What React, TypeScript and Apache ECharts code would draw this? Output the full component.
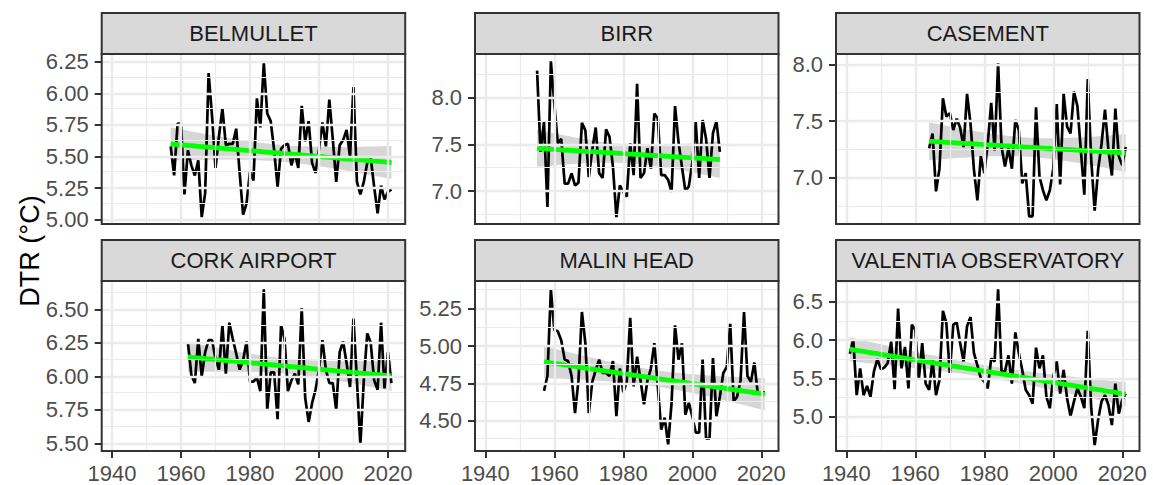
import React, { useEffect, useRef } from "react";
import * as echarts from "echarts";

const stations = ["BELMULLET", "BIRR", "CASEMENT", "CORK AIRPORT", "MALIN HEAD", "VALENTIA OBSERVATORY"];
const startYears = [1957, 1955, 1964, 1962, 1957, 1941];

const belmullet = [
  5.58, 5.35, 5.76, 5.76, 5.2, 5.55, 5.43, 5.35, 5.47, 5.02, 5.21, 6.16, 5.82, 5.41, 5.66, 5.88,
  5.59, 5.6, 5.6, 5.72, 5.37, 5.04, 5.13, 5.38, 5.31, 5.96, 5.73, 6.24, 5.84, 5.78, 5.55, 5.26,
  5.56, 5.59, 5.6, 5.43, 5.53, 5.41, 5.9, 5.62, 5.78, 5.45, 5.37, 5.56, 5.77, 5.58, 5.95, 5.64,
  5.3, 5.59, 5.63, 5.71, 5.5, 6.05, 5.3, 5.2, 5.3, 5.45, 5.49, 5.26, 5.05, 5.27, 5.16, 5.22, 5.24,
];
const birr = [
  8.29, 7.42, 7.74, 6.83, 8.39, 7.94, 7.51, 7.56, 7.08, 7.08, 7.19, 7.06, 7.09, 7.73, 7.65, 7.15,
  7.44, 7.68, 7.19, 7.14, 7.66, 7.58, 7.26, 6.72, 7.06, 6.99, 6.94, 7.51, 7.17, 8.15, 7.14, 7.19,
  7.46, 7.24, 7.83, 7.78, 7.17, 7.17, 7.12, 6.99, 7.91, 7.53, 7.26, 7.0, 7.05, 7.3, 7.74, 7.14,
  7.76, 7.56, 7.14, 7.62, 7.75, 7.42,
];
const casement = [
  7.26, 7.39, 6.88, 7.08, 7.7, 7.54, 7.57, 7.42, 7.52, 7.44, 7.27, 7.74, 7.48, 7.07, 6.8, 7.19,
  7.04, 7.3, 7.66, 7.24, 8.01, 7.27, 7.1, 7.26, 7.08, 7.51, 7.42, 6.95, 7.04, 6.66, 6.66, 7.62,
  7.01, 6.89, 6.8, 6.89, 7.08, 7.65, 6.94, 7.74, 7.45, 7.39, 7.76, 7.63, 7.24, 6.85, 7.87, 7.16,
  6.71, 7.07, 7.3, 7.6, 7.24, 7.02, 7.61, 7.19, 7.11, 7.27,
];
const corkAirport = [
  6.25, 6.01, 5.95, 6.28, 6.0, 6.18, 6.27, 6.27, 6.13, 6.05, 6.38, 6.02, 6.4, 6.28, 6.17, 6.05,
  6.12, 6.26, 5.96, 5.96, 5.99, 5.89, 6.65, 5.75, 6.03, 6.03, 5.68, 6.38, 6.28, 5.89, 5.97, 6.02,
  5.94, 6.51, 5.84, 5.66, 5.8, 5.9, 6.05, 6.27, 6.05, 5.95, 5.95, 5.75, 6.18, 6.26, 6.1, 5.92,
  6.43, 5.97, 5.49, 5.97, 6.32, 6.25, 5.97, 5.9, 6.4, 5.91, 6.18, 5.95,
];
const malinHead = [
  4.7, 4.8, 5.38, 5.11, 5.1, 5.04, 4.91, 4.9, 4.8, 4.55, 4.77, 5.23, 5.02, 4.55, 4.76, 4.84,
  4.91, 4.82, 4.82, 4.8, 4.9, 4.53, 4.85, 4.69, 4.76, 5.19, 4.73, 4.93, 4.77, 4.61, 4.77, 4.85,
  5.02, 4.73, 4.44, 4.52, 4.34, 4.62, 5.14, 4.91, 5.02, 4.54, 4.62, 4.53, 4.42, 4.42, 4.91, 4.38,
  4.38, 4.92, 4.53, 4.66, 4.82, 4.86, 5.15, 4.63, 4.66, 4.77, 5.23, 4.8, 4.76, 4.89, 4.68, 4.69, 4.69,
];
const valentia = [
  5.82, 6.01, 5.28, 5.63, 5.28, 5.4, 5.26, 5.59, 5.75, 5.62, 5.64, 5.7, 5.98, 5.36, 6.41, 5.63,
  5.91, 5.37, 6.2, 6.13, 5.48, 5.96, 5.43, 5.35, 5.74, 5.28, 5.48, 6.38, 6.22, 5.57, 6.2, 6.23,
  5.96, 5.72, 6.18, 6.3, 5.83, 5.67, 5.5, 5.46, 5.37, 5.76, 5.72, 6.66, 5.59, 5.59, 5.8, 5.43,
  6.1, 5.83, 5.61, 5.35, 5.28, 5.17, 5.9, 5.63, 5.8, 5.26, 5.11, 5.52, 5.72, 5.3, 5.61, 5.24,
  5.01, 5.2, 5.37, 5.26, 5.11, 6.12, 5.11, 4.63, 4.96, 5.2, 5.28, 5.15, 4.89, 5.43, 5.04, 5.22, 5.3,
];
const seriesValues = [belmullet, birr, casement, corkAirport, malinHead, valentia];

const xLimits = [1937, 2025];
const xTicks = [1940, 1960, 1980, 2000, 2020];
const xMinorTicks = [1950, 1970, 1990, 2010];

const yTicksBelmullet = [5.0, 5.25, 5.5, 5.75, 6.0, 6.25];
const yTicksBirr = [7.0, 7.5, 8.0];
const yTicksCasement = [7.0, 7.5, 8.0];
const yTicksCork = [5.5, 5.75, 6.0, 6.25, 6.5];
const yTicksMalin = [4.5, 4.75, 5.0, 5.25];
const yTicksValentia = [5.0, 5.5, 6.0, 6.5];
const yTicks = [yTicksBelmullet, yTicksBirr, yTicksCasement, yTicksCork, yTicksMalin, yTicksValentia];
const yDecimals = [2, 1, 1, 2, 2, 1];
const yLimits = [
  [4.966, 6.311],
  [6.647, 8.468],
  [6.592, 8.091],
  [5.443, 6.711],
  [4.296, 5.438],
  [4.552, 6.77],
];

const FONT = "Liberation Sans, Arial, Helvetica, sans-serif";
const colLeft = [101.7, 475, 836];
const rowTop = [54, 281];
const panelW = 303.5;
const panelH = 170;
const stripH = 41;
const TEXT_SIZE = 22;

function fitLm(xs: number[], ys: number[]) {
  const n = xs.length;
  const mx = xs.reduce((a, b) => a + b, 0) / n;
  const my = ys.reduce((a, b) => a + b, 0) / n;
  let sxx = 0, sxy = 0;
  for (let i = 0; i < n; i++) {
    sxx += (xs[i] - mx) ** 2;
    sxy += (xs[i] - mx) * (ys[i] - my);
  }
  const b = sxy / sxx;
  const a = my - b * mx;
  let rss = 0;
  for (let i = 0; i < n; i++) rss += (ys[i] - (a + b * xs[i])) ** 2;
  const s = Math.sqrt(rss / (n - 2));
  const t = 1.96 + 2.4 / (n - 2);
  return xs.map((x) => {
    const yhat = a + b * x;
    const se = s * Math.sqrt(1 / n + (x - mx) ** 2 / sxx);
    return { x, yhat, lo: yhat - t * se, hi: yhat + t * se };
  });
}

export default function App() {
  const ref = useRef<HTMLDivElement>(null);
  useEffect(() => {
    if (!ref.current) return;
    const chart = echarts.init(ref.current, undefined, { renderer: "svg" });
    const grids: any[] = [];
    const xAxes: any[] = [];
    const yAxes: any[] = [];
    const series: any[] = [];
    const graphics: any[] = [];

    stations.forEach((name, i) => {
      const col = i % 3;
      const row = Math.floor(i / 3);
      const left = colLeft[col];
      const top = rowTop[row];
      grids.push({ left, top, width: panelW, height: panelH, show: false, containLabel: false });
      const bottom = row === 1;
      xAxes.push({
        type: "value",
        gridIndex: i,
        min: xLimits[0],
        max: xLimits[1],
        axisLine: { show: false },
        splitLine: { show: false },
        axisTick: bottom
          ? { show: true, customValues: xTicks, length: 7, lineStyle: { color: "#333333", width: 2 } }
          : { show: false },
        axisLabel: bottom
          ? {
              show: true,
              customValues: xTicks,
              color: "#4D4D4D",
              fontSize: TEXT_SIZE,
              fontFamily: FONT,
              margin: 11,
              formatter: (v: number) => String(v),
            }
          : { show: false },
      });
      const [ymin, ymax] = yLimits[i];
      const ticks = yTicks[i];
      const step = ticks[1] - ticks[0];
      const minors: number[] = [];
      for (let v = ticks[0] - step / 2 - step * 2; v <= ymax; v += step) {
        if (v >= ymin && v <= ymax) minors.push(v);
      }
      yAxes.push({
        type: "value",
        gridIndex: i,
        min: ymin,
        max: ymax,
        axisLine: { show: false },
        splitLine: { show: false },
        axisTick: { show: true, customValues: ticks, length: 7, lineStyle: { color: "#333333", width: 2 } },
        axisLabel: {
          show: true,
          customValues: ticks,
          color: "#4D4D4D",
          fontSize: TEXT_SIZE,
          fontFamily: FONT,
          margin: 13,
          formatter: (v: number) => v.toFixed(yDecimals[i]),
        },
      });

      const gridLines: any[] = [];
      xMinorTicks.forEach((v) => gridLines.push({ xAxis: v, lineStyle: { color: "#EBEBEB", width: 1.2, type: "solid" } }));
      minors.forEach((v) => gridLines.push({ yAxis: v, lineStyle: { color: "#EBEBEB", width: 1.2, type: "solid" } }));
      xTicks.forEach((v) => gridLines.push({ xAxis: v, lineStyle: { color: "#EBEBEB", width: 2.4, type: "solid" } }));
      ticks.forEach((v) => gridLines.push({ yAxis: v, lineStyle: { color: "#EBEBEB", width: 2.4, type: "solid" } }));

      const vals = seriesValues[i];
      const years = vals.map((_, k) => startYears[i] + k);
      const fit = fitLm(years, vals);

      series.push({
        type: "line",
        xAxisIndex: i,
        yAxisIndex: i,
        data: [],
        silent: true,
        markLine: {
          silent: true,
          symbol: ["none", "none"],
          label: { show: false },
          animation: false,
          data: gridLines,
        },
      });
      series.push({
        type: "line",
        xAxisIndex: i,
        yAxisIndex: i,
        data: years.map((y, k) => [y, vals[k]]),
        showSymbol: false,
        symbol: "none",
        lineStyle: { color: "#000000", width: 2.7 },
        silent: true,
      });
      series.push({
        type: "custom",
        xAxisIndex: i,
        yAxisIndex: i,
        data: fit.map((f) => [f.x, f.lo, f.hi]),
        encode: { x: 0, y: [1, 2] },
        silent: true,
        renderItem: (params: any, api: any) => {
          if (params.dataIndex !== 0) return null;
          const upper = fit.map((f) => api.coord([f.x, f.hi]));
          const lower = fit.map((f) => api.coord([f.x, f.lo])).reverse();
          return {
            type: "polygon",
            shape: { points: upper.concat(lower) },
            style: { fill: "#999999", opacity: 0.4 },
          };
        },
      });
      series.push({
        type: "line",
        xAxisIndex: i,
        yAxisIndex: i,
        data: fit.map((f) => [f.x, f.yhat]),
        symbol: "none",
        lineStyle: { color: "#00FF00", width: 4.8 },
        silent: true,
      });

      graphics.push({
        type: "rect",
        shape: { x: left, y: top - stripH, width: panelW, height: stripH },
        style: { fill: "#D9D9D9", stroke: "#333333", lineWidth: 2 },
        z: 100,
      });
      graphics.push({
        type: "text",
        x: left + panelW / 2,
        y: top - stripH / 2,
        style: {
          text: name,
          fill: "#1A1A1A",
          fontSize: TEXT_SIZE,
          fontFamily: FONT,
          textAlign: "center",
          textVerticalAlign: "middle",
        },
        z: 101,
      });
      graphics.push({
        type: "rect",
        shape: { x: left, y: top, width: panelW, height: panelH },
        style: { fill: "none", stroke: "#333333", lineWidth: 2 },
        z: 100,
      });
    });

    graphics.push({
      type: "text",
      x: 30,
      y: 251,
      rotation: Math.PI / 2,
      style: {
        text: "DTR (°C)",
        fill: "#000000",
        fontSize: 27,
        fontFamily: FONT,
        textAlign: "center",
        textVerticalAlign: "middle",
      },
      z: 101,
    });

    chart.setOption({
      animation: false,
      backgroundColor: "#FFFFFF",
      grid: grids,
      xAxis: xAxes,
      yAxis: yAxes,
      series,
      graphic: graphics,
    });
    return () => chart.dispose();
  }, []);
  return (
    <div
      ref={ref}
      style={{ position: "absolute", left: 0, top: 0, width: 1153, height: 485 }}
    />
  );
}
